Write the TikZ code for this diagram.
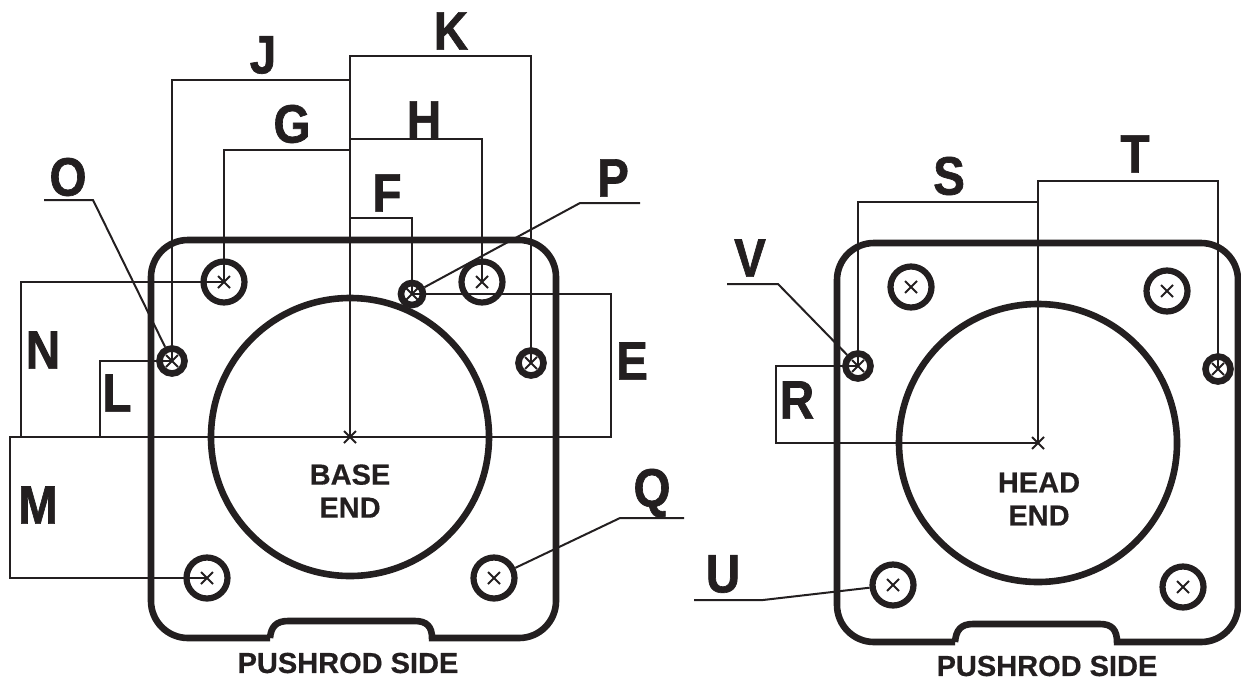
\documentclass[tikz,border=0pt]{standalone}
\usepackage{fontspec}
\setmainfont{Liberation Sans}
\newfontfamily\letterfont[FakeStretch=0.88,FakeBold=1.2]{Liberation Sans}
\newfontfamily\captionfont[FakeBold=0.5]{Liberation Sans}
\usetikzlibrary{shapes.misc}
\definecolor{inkblack}{RGB}{35,31,32}
\tikzset{
	plate/.style={draw=inkblack, line width=6.6pt},
	dimline/.style={draw=inkblack, line width=2pt},
	leader/.style={draw=inkblack, line width=2pt},
	bighole/.style={circle, draw=inkblack, line width=6.2pt, minimum size=41pt, inner sep=0pt},
	smallhole/.style={circle, draw=inkblack, line width=6.6pt, minimum size=#1, inner sep=0pt},
	crossmark/.style={cross out, draw=inkblack, line width=2pt, minimum size=10pt, inner sep=0pt},
	letter/.style={text=inkblack, font=\letterfont\bfseries\fontsize{54}{54}\selectfont, inner sep=0pt},
	caption/.style={text=inkblack, font=\captionfont\bfseries\fontsize{29}{33}\selectfont, align=center, inner sep=0pt}
}
\begin{document}
\begin{tikzpicture}[x=1pt, y=-1pt]
	\useasboundingbox (0,0) rectangle (1241,683);
	
	% estremita libere
	\coordinate (oend) at (44,200);
	\coordinate (pend) at (640,203);
	\coordinate (qend) at (684,518);
	\coordinate (vend) at (727,284);
	\coordinate (uend) at (694,600);
	
	% centri
	\node[crossmark] (basec) at (350,437) {};
	\node[crossmark] (headc) at (1038,443) {};
	
	% fori base
	\node[bighole] (ba) at (224,282) {};
	\node[bighole] (bb) at (482,282) {};
	\node[bighole] (bc) at (207,578) {};
	\node[bighole] (bd) at (494,578) {};
	\node[smallhole=25pt] (bo) at (172,361) {};
	\node[smallhole=22pt] (bf) at (412,294) {};
	\node[smallhole=25pt] (bk) at (531,363) {};
	
	% fori testa
	\node[bighole] (ha) at (911,287) {};
	\node[bighole] (hb) at (1167,291) {};
	\node[bighole] (hc) at (893,585) {};
	\node[bighole] (hd) at (1183,587) {};
	\node[smallhole=25pt] (hs) at (858,366) {};
	\node[smallhole=25pt] (ht) at (1218,369) {};
	
	% croci
	\foreach \hole in {ba,bb,bc,bd,bo,bf,bk,ha,hb,hc,hd,hs,ht}
		\node[crossmark] (x\hole) at (\hole.center) {};
	
	% piastra base
	\draw[plate, rounded corners=37pt] (270,638) [sharp corners] .. controls (271,627) and (276,621) .. (288,621) -- (415,621) .. controls (427,621) and (432,627) .. (432,638) [rounded corners=37pt] -- (556,638) -- (556,240) -- (151,240) -- (151,638) -- (270,638);
	\draw[plate] (basec.center) circle (139);
	
	% piastra testa
	\draw[plate, rounded corners=37pt] (955,642) [sharp corners] .. controls (956,630) and (961,624) .. (973,624) -- (1100,624) .. controls (1112,624) and (1117,630) .. (1117,642) [rounded corners=37pt] -- (1238,642) -- (1238,243) -- (837,243) -- (837,642) -- (955,642);
	\draw[plate] (headc.center) circle (139);
	
	% quote base
	\draw[dimline] (basec.center) -- (350,56) -- (531,56) -- (bk.center);
	\draw[dimline] (basec.center) -- (350,80) -- (172,80) -- (bo.center);
	\draw[dimline] (basec.center) -- (350,139) -- (482,139) -- (bb.center);
	\draw[dimline] (basec.center) -- (350,150) -- (224,150) -- (ba.center);
	\draw[dimline] (basec.center) -- (350,218) -- (412,218) -- (bf.center);
	\draw[dimline] (basec.center) -- (611,437) -- (611,294) -- (bf.center);
	\draw[dimline] (basec.center) -- (10,437) -- (10,578) -- (bc.center);
	\draw[dimline] (basec.center) -- (21,437) -- (21,282) -- (ba.center);
	\draw[dimline] (basec.center) -- (100,437) -- (100,361) -- (bo.center);
	
	% quote testa
	\draw[dimline] (headc.center) -- (1038,202) -- (858,202) -- (hs.center);
	\draw[dimline] (headc.center) -- (1038,181) -- (1218,181) -- (ht.center);
	\draw[dimline] (headc.center) -- (776,443) -- (776,366) -- (hs.center);
	
	% richiami
	\draw[leader] (oend) -- (93,200) -- (bo);
	\draw[leader] (pend) -- (580,203) -- (bf);
	\draw[leader] (qend) -- (620,518) -- (bd);
	\draw[leader] (vend) -- (778,284) -- (hs);
	\draw[leader] (uend) -- (763,600) -- (hc);
	
	% lettere base
	\node[letter] (lj) at (263,55) {J};
	\node[letter] (lk) at (451,31) {K};
	\node[letter] (lg) at (292,124) {G};
	\node[letter] (lh) at (424,120) {H};
	\node[letter] (lf) at (387,193) {F};
	\node[letter] (lo) at (68,177) {O};
	\node[letter] (lp) at (613,178) {P};
	\node[letter] (le) at (632,361) {E};
	\node[letter] (ln) at (43,350) {N};
	\node[letter] (ll) at (117,393) {L};
	\node[letter] (lm) at (38,505) {M};
	\node[letter] (lq) at (652,493) {Q};
	
	% lettere testa
	\node[letter] (ls) at (949,176) {S};
	\node[letter] (lt) at (1135,154) {T};
	\node[letter] (lv) at (750,258) {V};
	\node[letter] (lr) at (797,400) {R};
	\node[letter] (lu) at (723,574) {U};
	
	% scritte
	\node[caption] (base) at (350,491) {BASE\\END};
	\node[caption] (head) at (1039,499) {HEAD\\END};
	\node[caption] (pushb) at (348,663) {PUSHROD SIDE};
	\node[caption] (pushh) at (1047,666) {PUSHROD SIDE};
	
\end{tikzpicture}
\end{document}
